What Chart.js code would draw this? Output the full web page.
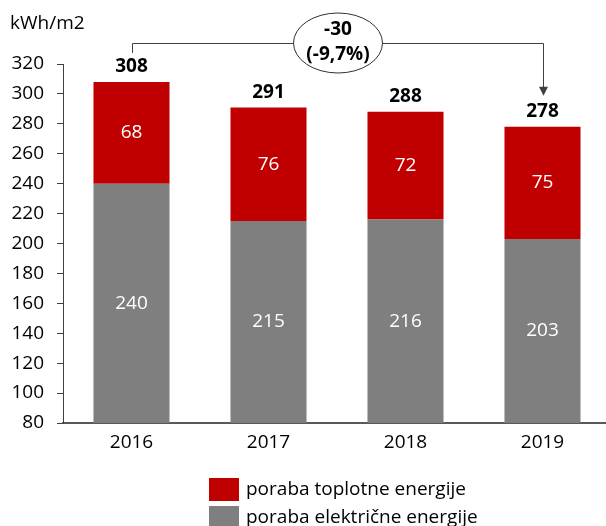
<!DOCTYPE html>
<html>
<head>
<meta charset="utf-8">
<script src="https://cdn.jsdelivr.net/npm/chart.js@4/dist/chart.umd.min.js"></script>
<style>
  html, body { margin: 0; padding: 0; background: #fff; overflow: hidden; }
  #wrap { width: 612px; height: 526px; }
</style>
</head>
<body>
<div id="wrap"><canvas id="grafikon" width="612" height="526"></canvas></div>
<script>
const leta = ['2016', '2017', '2018', '2019'];
const elektricna = [240, 215, 216, 203];
const toplotna = [68, 76, 72, 75];
const oznakaElektricna = 'poraba električne energije';
const oznakaToplotna = 'poraba toplotne energije';
const enota = 'kWh/m2';
const yMin = 80;
const yMax = 320;
const yKorak = 20;

const rdeca = '#C00000';
const siva = '#7F7F7F';
const pisava = "'Open Sans', sans-serif";

const skupaj = leta.map((_, i) => elektricna[i] + toplotna[i]);

// oznake vrednosti v stolpcih in skupne vsote nad njimi
const oznakePlugin = {
  id: 'oznake',
  afterDatasetsDraw(chart) {
    const ctx = chart.ctx;
    const dno = chart.chartArea.bottom;
    ctx.save();
    ctx.textAlign = 'center';
    ctx.textBaseline = 'middle';
    chart.data.datasets.forEach((ds, di) => {
      chart.getDatasetMeta(di).data.forEach((bar, i) => {
        // spodnji del stolpca je odrezan pri 80, zato sredino računamo samo na vidnem delu
        const spodaj = Math.min(bar.base, dno);
        ctx.fillStyle = '#fff';
        ctx.font = '19px ' + pisava;
        ctx.fillText(ds.data[i], bar.x, (bar.y + spodaj) / 2);
      });
    });
    const vrh = chart.getDatasetMeta(1).data;
    ctx.fillStyle = '#000';
    ctx.font = 'bold 19px ' + pisava;
    vrh.forEach((bar, i) => {
      ctx.fillText(skupaj[i], bar.x, bar.y - 15);
    });
    ctx.restore();
  }
};

// puščica s spremembo med prvim in zadnjim letom
const razlikaPlugin = {
  id: 'razlika',
  afterDraw(chart) {
    const ctx = chart.ctx;
    const bars = chart.getDatasetMeta(1).data;
    const prvi = bars[0], zadnji = bars[bars.length - 1];
    const x1 = Math.round(prvi.x) + 0.5;
    const x2 = Math.round(zadnji.x) + 0.5;
    const yl = 43.5;
    const konica = zadnji.y - 31;
    ctx.save();
    ctx.strokeStyle = '#404040';
    ctx.lineWidth = 1;
    ctx.beginPath();
    ctx.moveTo(x1, prvi.y - 29);
    ctx.lineTo(x1, yl);
    ctx.lineTo(x2, yl);
    ctx.lineTo(x2, konica - 8);
    ctx.stroke();
    ctx.fillStyle = '#404040';
    ctx.beginPath();
    ctx.moveTo(x2 - 4.5, konica - 9);
    ctx.lineTo(x2 + 4.5, konica - 9);
    ctx.lineTo(x2, konica);
    ctx.closePath();
    ctx.fill();

    const cx = (x1 + x2) / 2;
    const cy = 43;
    ctx.beginPath();
    ctx.ellipse(cx, cy, 44.5, 30, 0, 0, Math.PI * 2);
    ctx.fillStyle = '#fff';
    ctx.fill();
    ctx.strokeStyle = '#303030';
    ctx.stroke();

    const diff = skupaj[skupaj.length - 1] - skupaj[0];
    const pct = (diff / skupaj[0] * 100).toFixed(1).replace('.', ',');
    ctx.fillStyle = '#000';
    ctx.font = 'bold 19px ' + pisava;
    ctx.textAlign = 'center';
    ctx.textBaseline = 'middle';
    ctx.fillText(String(diff), cx, 30);
    ctx.fillText('(' + pct + '%)', cx, 55);

    // enota nad osjo y
    ctx.font = '19px ' + pisava;
    ctx.textAlign = 'left';
    ctx.fillText(enota, 10, 24);
    ctx.restore();
  }
};

// legenda v dveh vrsticah pod grafom
const legendaPlugin = {
  id: 'legenda',
  afterDraw(chart) {
    const ctx = chart.ctx;
    const vrstice = chart.data.datasets.slice().reverse();
    ctx.save();
    ctx.font = '19px ' + pisava;
    ctx.textBaseline = 'middle';
    ctx.textAlign = 'left';
    vrstice.forEach((ds, i) => {
      const y = 478 + i * 28;
      ctx.fillStyle = ds.backgroundColor;
      ctx.fillRect(209, y, 30, 23);
      ctx.fillStyle = '#000';
      ctx.fillText(ds.label, 246, y + 11.5);
    });
    ctx.restore();
  }
};

new Chart(document.getElementById('grafikon'), {
  type: 'bar',
  data: {
    labels: leta,
    datasets: [
      { label: oznakaElektricna, data: elektricna, backgroundColor: siva, borderWidth: 0 },
      { label: oznakaToplotna, data: toplotna, backgroundColor: rdeca, borderWidth: 0 }
    ]
  },
  options: {
    responsive: false,
    animation: false,
    layout: { padding: { top: 64, left: 0, right: 1, bottom: 0 } },
    datasets: { bar: { categoryPercentage: 1, barPercentage: 0.555 } },
    plugins: { legend: { display: false }, tooltip: { enabled: false } },
    scales: {
      x: {
        stacked: true,
        grid: { display: false, drawTicks: false },
        border: { color: '#595959', width: 2 },
        ticks: { color: '#000', font: { family: pisava, size: 19 }, padding: 8 },
        afterFit(scale) { scale.height = 103; }
      },
      y: {
        stacked: true,
        min: yMin,
        max: yMax,
        grid: { drawOnChartArea: false, drawTicks: true, tickLength: 6, color: '#404040' },
        border: { color: '#404040', width: 1 },
        ticks: { stepSize: yKorak, color: '#000', font: { family: pisava, size: 19 }, padding: 13 },
        afterFit(scale) { scale.width = 63; }
      }
    }
  },
  plugins: [oznakePlugin, razlikaPlugin, legendaPlugin]
});
</script>
</body>
</html>
